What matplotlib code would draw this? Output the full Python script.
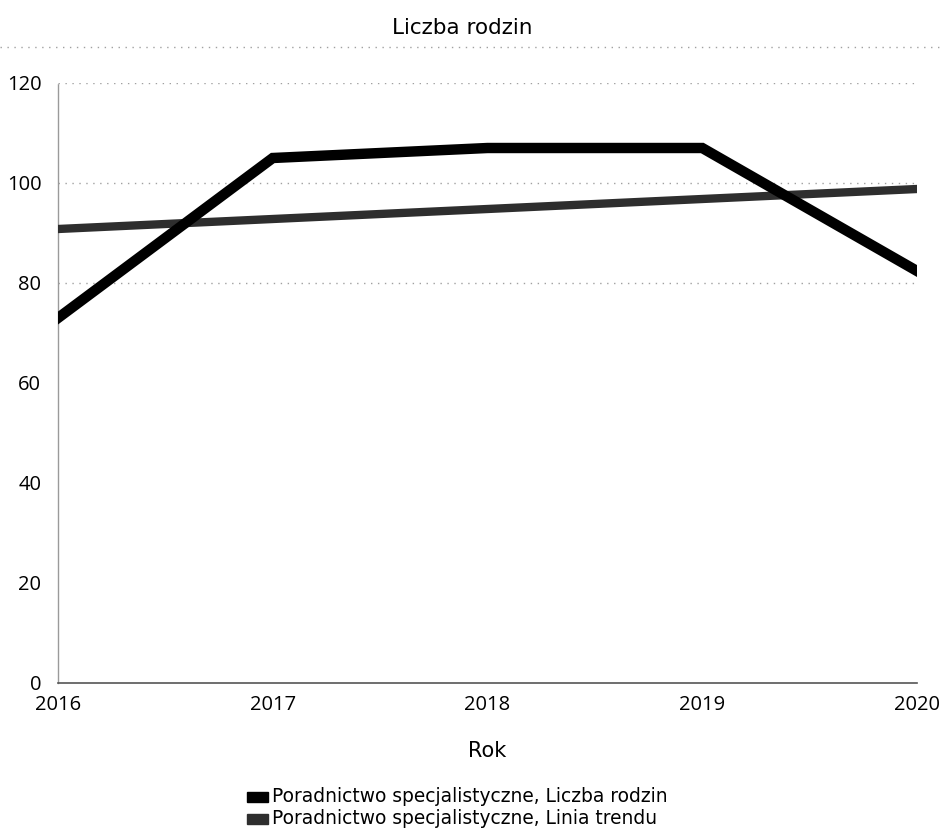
import matplotlib
matplotlib.use("Agg")
import matplotlib.pyplot as plt
from matplotlib.lines import Line2D
from matplotlib.patches import Rectangle

years = [2016, 2017, 2018, 2019, 2020]
liczba_rodzin = [73, 105, 107, 107, 82.4]
linia_trendu = [90.8, 92.8, 94.8, 96.8, 98.8]
y_ticks = [0, 20, 40, 60, 80, 100, 120]
series_names = ["Poradnictwo specjalistyczne, Liczba rodzin",
                "Poradnictwo specjalistyczne, Linia trendu"]
title = "Liczba rodzin"
xlabel = "Rok"

fig = plt.figure(figsize=(9.42, 8.35), dpi=100)
ax = fig.add_axes([58/942, 1-683/835, (917-58)/942, (683-83)/835])

ax.plot(years, linia_trendu, color="#2e2e2e", lw=6, solid_capstyle="projecting", zorder=3)
ax.plot(years, liczba_rodzin, color="black", lw=7.5, solid_capstyle="projecting",
        solid_joinstyle="miter", zorder=4)

ax.set_xlim(2016, 2020)
ax.set_ylim(0, 120)
ax.set_xticks(years)
ax.set_yticks(y_ticks)
ax.tick_params(length=0, labelsize=14.5)
ax.tick_params(axis="x", pad=9)
ax.tick_params(axis="y", pad=12)
for lab in ax.get_xticklabels() + ax.get_yticklabels():
    lab.set_fontfamily("Open Sans")
for v in y_ticks:
    if v >= 80:
        ax.axhline(v, color="#a0a0a0", lw=1, ls=(0, (1, 4)), zorder=1)
for s in ["top", "right"]:
    ax.spines[s].set_visible(False)
ax.spines["left"].set_color("#9a9a9a")
ax.spines["left"].set_linestyle((0, (1, 1)))
ax.spines["left"].set_linewidth(1)
ax.spines["bottom"].set_color("#555555")
ax.spines["bottom"].set_linewidth(1.2)

fig.text(487/942, 1-751/835, xlabel, ha="center", va="center", fontsize=15, fontfamily="DejaVu Sans")

fig.text(462/942, 1-28/835, title, ha="center", va="center", fontsize=15.5, fontfamily="DejaVu Sans")
fig.add_artist(Line2D([0.0, 1.0], [1-47/835, 1-47/835], transform=fig.transFigure,
                      color="#a0a0a0", lw=1, ls=(0, (1, 4))))

# legend
for i, (name, col) in enumerate(zip(series_names, ["black", "#2e2e2e"])):
    yc = 797 + i * 22
    fig.add_artist(Rectangle((247/942, 1-(yc+5)/835), 21/942, 10/835, transform=fig.transFigure,
                             facecolor=col, edgecolor=col))
    fig.text(272/942, 1-yc/835, name, ha="left", va="center", fontsize=13.4, fontfamily="DejaVu Sans")

fig.savefig("out.png", dpi=100)
